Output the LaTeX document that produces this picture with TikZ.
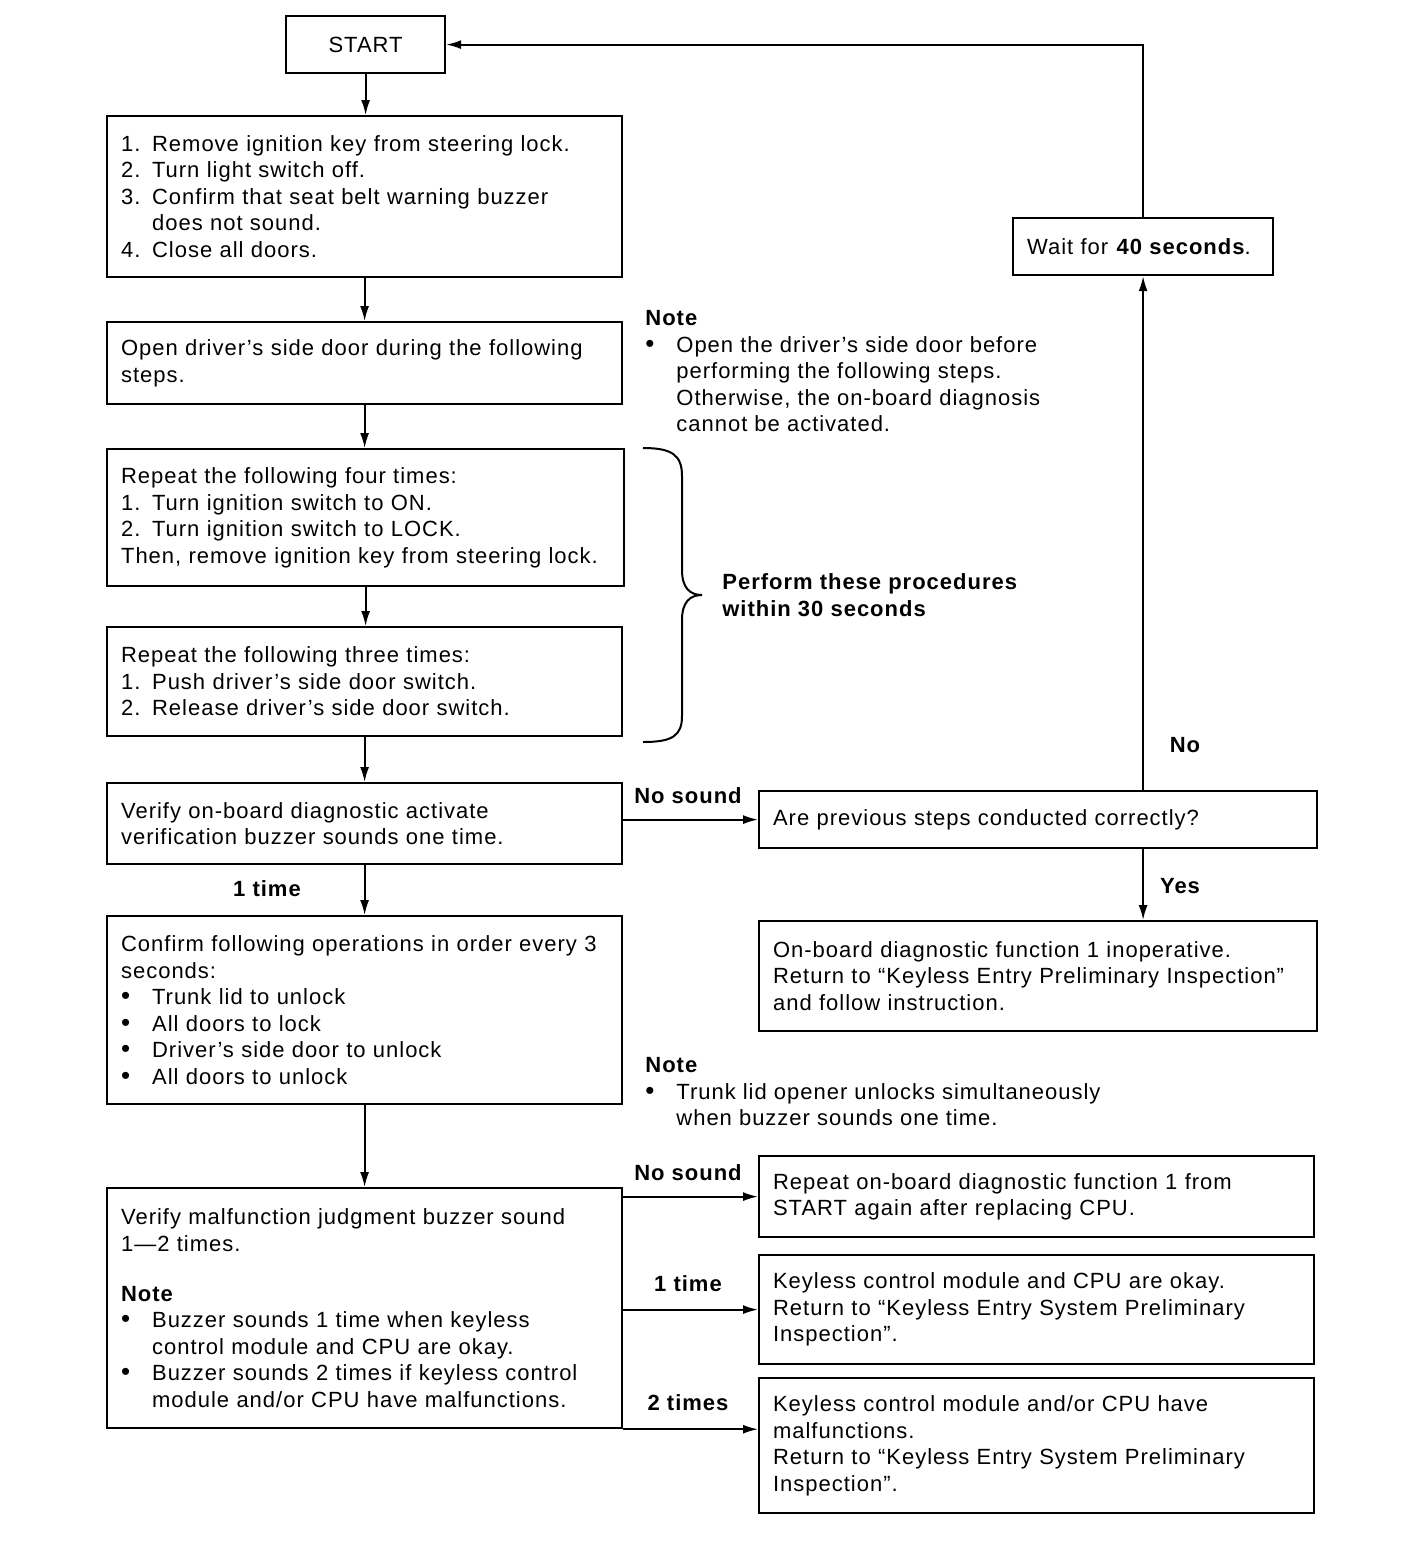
\documentclass[tikz,border=0pt]{standalone}
\usepackage{fontspec}
\setmainfont{Liberation Sans}[LetterSpace=4.5]
\usetikzlibrary{arrows.meta}
\newcommand\mainsize{\fontsize{11pt}{13.25pt}\selectfont}
\newcommand\nr[1]{\makebox[15.5pt][l]{#1}}
\newcommand\bul{\makebox[15.5pt][l]{{\fontsize{13pt}{13pt}\selectfont\textbullet}}}
\newcommand\ind{\hspace*{15.5pt}}

\begin{document}
\begin{tikzpicture}[x=0.5pt, y=-0.5pt,
		box/.style={draw, line width=1.1pt, anchor=north west, align=left, inner xsep=7pt, inner ysep=3pt, font=\mainsize},
		lbl/.style={font=\mainsize\bfseries, inner sep=0pt},
		notetext/.style={font=\mainsize, align=left, anchor=north west, inner sep=0pt},
		conn/.style={line width=0.9pt, -{Latex[length=7.5pt,width=4.5pt]}}]
			%%%%% FRAME %%%%%
			\useasboundingbox (0,0) rectangle (1408,1560);
			
			%%%%% LEFT COLUMN %%%%%
			\node[box, align=center, text width=65.5pt, minimum height=28.5pt] (start) at (285,15) {START};
			
			\node[box, text width=243.5pt, minimum height=80.5pt] (prep) at (106,115) {\nr{1.}Remove ignition key from steering lock.\\
				\nr{2.}Turn light switch off.\\
				\nr{3.}Confirm that seat belt warning buzzer\\
				\ind does not sound.\\
				\nr{4.}Close all doors.};
			
			\node[box, text width=243.5pt, minimum height=41pt] (door) at (106,321) {Open driver’s side door during the following\\ steps.};
			
			\node[box, text width=244.5pt, minimum height=68.5pt] (ign) at (106,448) {Repeat the following four times:\\
				\nr{1.}Turn ignition switch to ON.\\
				\nr{2.}Turn ignition switch to LOCK.\\
				Then, remove ignition key from steering lock.};
			
			\node[box, text width=243.5pt, minimum height=54.5pt] (sw) at (106,626) {Repeat the following three times:\\
				\nr{1.}Push driver’s side door switch.\\
				\nr{2.}Release driver’s side door switch.};
			
			\node[box, text width=243.5pt, minimum height=40.5pt] (verify) at (106,782) {Verify on-board diagnostic activate\\ verification buzzer sounds one time.};
			
			\node[box, text width=243.5pt, minimum height=94pt] (ops) at (106,915) {Confirm following operations in order every 3\\ seconds:\\
				\bul Trunk lid to unlock\\
				\bul All doors to lock\\
				\bul Driver’s side door to unlock\\
				\bul All doors to unlock};
			
			\node[box, text width=243.5pt, minimum height=120pt] (judge) at (106,1187) {Verify malfunction judgment buzzer sound\\ 1—2 times.\\[11.75pt]
				{\bfseries Note}\\
				\bul Buzzer sounds 1 time when keyless\\
				\ind control module and CPU are okay.\\
				\bul Buzzer sounds 2 times if keyless control\\
				\ind module and/or CPU have malfunctions.};
			
			%%%%% RIGHT COLUMN %%%%%
			\node[box, text width=116pt, minimum height=28.5pt] (wait) at (1012,217) {Wait for \textbf{40 seconds}.};
			\node[box, text width=265pt, minimum height=28.5pt] (ask) at (758,790) {Are previous steps conducted correctly?};
			\node[box, text width=265pt, minimum height=55pt] (fail) at (758,920) {On-board diagnostic function 1 inoperative.\\
				Return to “Keyless Entry Preliminary Inspection”\\
				and follow instruction.};
			
			\node[box, text width=263.5pt, minimum height=40.5pt] (redo) at (758,1155) {Repeat on-board diagnostic function 1 from\\ START again after replacing CPU.};
			\node[box, text width=263.5pt, minimum height=54.5pt] (okay) at (758,1254) {Keyless control module and CPU are okay.\\
				Return to “Keyless Entry System Preliminary\\
				Inspection”.};
			\node[box, text width=263.5pt, minimum height=67.5pt] (bad) at (758,1377) {Keyless control module and/or CPU have\\
				malfunctions.\\
				Return to “Keyless Entry System Preliminary\\
				Inspection”.};
			
			%%%%% NOTES %%%%%
			\node[notetext] (note1) at (645,310) {{\bfseries Note}\\
				\bul Open the driver’s side door before\\
				\ind performing the following steps.\\
				\ind Otherwise, the on-board diagnosis\\
				\ind cannot be activated.};
			\node[notetext] (note2) at (645,1057) {{\bfseries Note}\\
				\bul Trunk lid opener unlocks simultaneously\\
				\ind when buzzer sounds one time.};
			
			% brace round the two repeat steps
			\draw[line width=1pt] (643,448) .. controls (672,448) and (682,455) .. (682,476) -- (682,570)
				.. controls (682,588) and (690,595) .. (702,595)
				.. controls (690,595) and (682,602) .. (682,620) -- (682,716)
				.. controls (682,736) and (672,742) .. (643,742);
			\node[lbl, align=left, anchor=west] (within) at (722,595) {Perform these procedures\\ within 30 seconds};
			
			%%%%% CONNECTORS %%%%%
			\draw[conn] (start.south) -- (start.south |- prep.north);
			\draw[conn] (prep) -- (door);
			\draw[conn] (door.south) -- (door.south |- ign.north);
			\draw[conn] (ign.south) -- (ign.south |- sw.north);
			\draw[conn] (sw) -- (verify);
			\draw[conn] (verify) -- (ops);
			\draw[conn] (ops) -- (judge);
			
			\draw[conn] (ask.west -| verify.east) -- (ask.west);
			\draw[conn] (wait.south |- ask.north) -- (wait.south);
			\draw[conn] (wait.north) |- (start.east);
			\draw[conn] (wait.south |- ask.south) -- (wait.south |- fail.north);
			
			\draw[conn] (judge.east |- redo.west) -- (redo.west);
			\draw[conn] (judge.east |- okay.west) -- (okay.west);
			\draw[conn] (judge.south east) -- (judge.south east -| bad.west);
			
			%%%%% LABELS %%%%%
			\node[lbl] (nosound) at (688,796) {No sound};
			\node[lbl] (no) at (1185,745) {No};
			\node[lbl] (yes) at (1180,886) {Yes};
			\node[lbl] (once) at (267,889) {1 time};
			\node[lbl] (nosound2) at (688,1173) {No sound};
			\node[lbl] (once2) at (688,1284) {1 time};
			\node[lbl] (twice) at (688,1403) {2 times};
\end{tikzpicture}
\end{document}
